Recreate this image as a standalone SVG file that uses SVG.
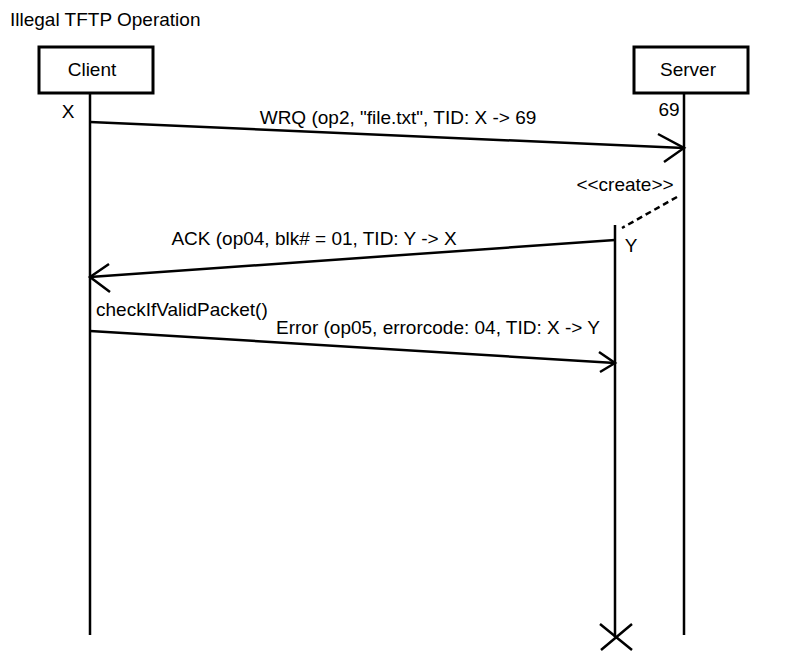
<svg xmlns="http://www.w3.org/2000/svg" width="800" height="668" viewBox="0 0 800 668">
<style>
text{font-family:"Liberation Sans",Arial,sans-serif;font-size:19px;fill:#000}
.box{fill:#fff;stroke:#000;stroke-width:3}
.ln{stroke:#000;stroke-width:2.5;fill:none}
</style>
<rect width="800" height="668" fill="#fff"/>
<text x="10" y="26">Illegal TFTP Operation</text>
<g id="client">
<rect class="box" x="39" y="47" width="114" height="46"/>
<text x="92" y="76" text-anchor="middle">Client</text>
<line class="ln" x1="90" y1="93" x2="90" y2="635"/>
<text x="68" y="118" text-anchor="middle">X</text>
</g>
<g id="server">
<rect class="box" x="634" y="47" width="114" height="46"/>
<text x="688" y="76" text-anchor="middle">Server</text>
<line class="ln" x1="684" y1="93" x2="684" y2="635"/>
<text x="669" y="116" text-anchor="middle">69</text>
</g>
<g id="y">
<line class="ln" x1="615" y1="225" x2="615" y2="637"/>
<text x="631" y="252" text-anchor="middle">Y</text>
<path class="ln" d="M600,624 L632,650 M601,650 L632,624"/>
</g>
<g id="connectors">
<line class="ln" x1="90" y1="122" x2="684" y2="148"/>
<path class="ln" d="M658,134 L684,148 L664,162"/>
<text x="398" y="124" text-anchor="middle">WRQ (op2, "file.txt", TID: X -&gt; 69</text>
<line class="ln" x1="677" y1="197" x2="622" y2="228" stroke-dasharray="6,4"/>
<text x="625" y="191" text-anchor="middle">&lt;&lt;create&gt;&gt;</text>
<line class="ln" x1="615" y1="240" x2="90" y2="277"/>
<path class="ln" d="M109,264 L90,277 L110,292"/>
<text x="314" y="245" text-anchor="middle">ACK (op04, blk# = 01, TID: Y -&gt; X</text>
<text x="96" y="316">checkIfValidPacket()</text>
<line class="ln" x1="90" y1="331" x2="615" y2="363"/>
<path class="ln" d="M599,352 L615,363 L600,372"/>
<text x="438" y="334" text-anchor="middle">Error (op05, errorcode: 04, TID: X -&gt; Y</text>
</g>
</svg>
